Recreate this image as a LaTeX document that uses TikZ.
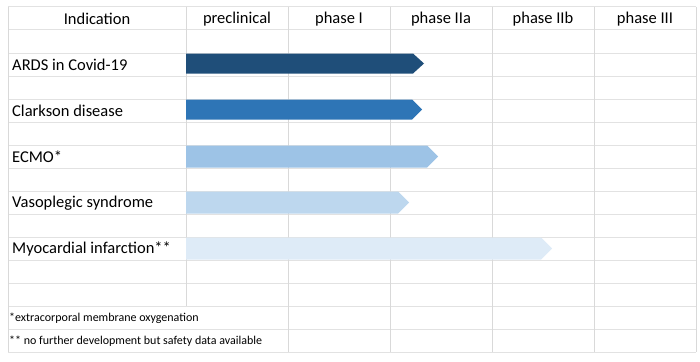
\documentclass[tikz,border=0pt]{standalone}
\usepackage{fontspec}
\setmainfont{Carlito}
\definecolor{gridc}{HTML}{E2E2E2}
\definecolor{gridv}{HTML}{D9D9D9}
\definecolor{cA}{HTML}{1F4E79}
\definecolor{cB}{HTML}{2E75B6}
\definecolor{cC}{HTML}{9DC3E6}
\definecolor{cD}{HTML}{BDD7EE}
\definecolor{cE}{HTML}{DEEBF7}
\begin{document}
\begin{tikzpicture}[x=1pt,y=-1pt,
  hdr/.style={inner sep=0pt,font=\fontsize{16.5}{18}\selectfont,anchor=center},
  lbl/.style={inner sep=0pt,font=\fontsize{16.5}{18}\selectfont,anchor=west},
  fnote/.style={inner sep=0pt,font=\fontsize{12}{14}\selectfont,anchor=west},
  hline/.style={draw=gridc,line width=1pt},
  vline/.style={draw=gridv,line width=1pt}]
\useasboundingbox (0,0) rectangle (700,361);
% horizontal grid lines
\foreach \i in {0,...,15}{
  \draw[hline] (8,{7+23*\i}) -- (696,{7+23*\i});
}
% vertical grid lines
\draw[vline] (8,7) -- (8,352);
\draw[vline] (186,7) -- (186,306);
\foreach \x in {288,390,492,594,696}{
  \draw[vline] (\x,7) -- (\x,352);
}
% header
\node[hdr] (h0) at (97,19) {Indication};
\node[hdr] (h1) at (237,19) {preclinical};
\node[hdr] (h2) at (339,19) {phase I};
\node[hdr] (h3) at (441,19) {phase IIa};
\node[hdr] (h4) at (543,19) {phase IIb};
\node[hdr] (h5) at (645,19) {phase III};
% bars
\fill[cA] (186,53.5) -- (413,53.5) -- (424,63.5) -- (413,73.5) -- (186,73.5) -- cycle;
\fill[cB] (186,99.5) -- (412,99.5) -- (422,109.5) -- (412,119.5) -- (186,119.5) -- cycle;
\fill[cC] (186,145.5) -- (427,145.5) -- (438,156.5) -- (427,167.5) -- (186,167.5) -- cycle;
\fill[cD] (186,191.5) -- (398,191.5) -- (409,202.5) -- (398,213.5) -- (186,213.5) -- cycle;
\fill[cE] (186,237.5) -- (541,237.5) -- (552,248.5) -- (541,259.5) -- (186,259.5) -- cycle;
% labels
\node[lbl] (l1) at (12,65) {ARDS in Covid-19};
\node[lbl] (l2) at (12,111) {Clarkson disease};
\node[lbl] (l3) at (12,157) {ECMO*};
\node[lbl] (l4) at (12,203) {Vasoplegic syndrome};
\node[lbl] (l5) at (12,249) {Myocardial infarction**};
% footnotes
\node[fnote] (f1) at (9,318) {*extracorporal membrane oxygenation};
\node[fnote] (f2) at (9,341) {** no further development but safety data available};
\end{tikzpicture}
\end{document}
